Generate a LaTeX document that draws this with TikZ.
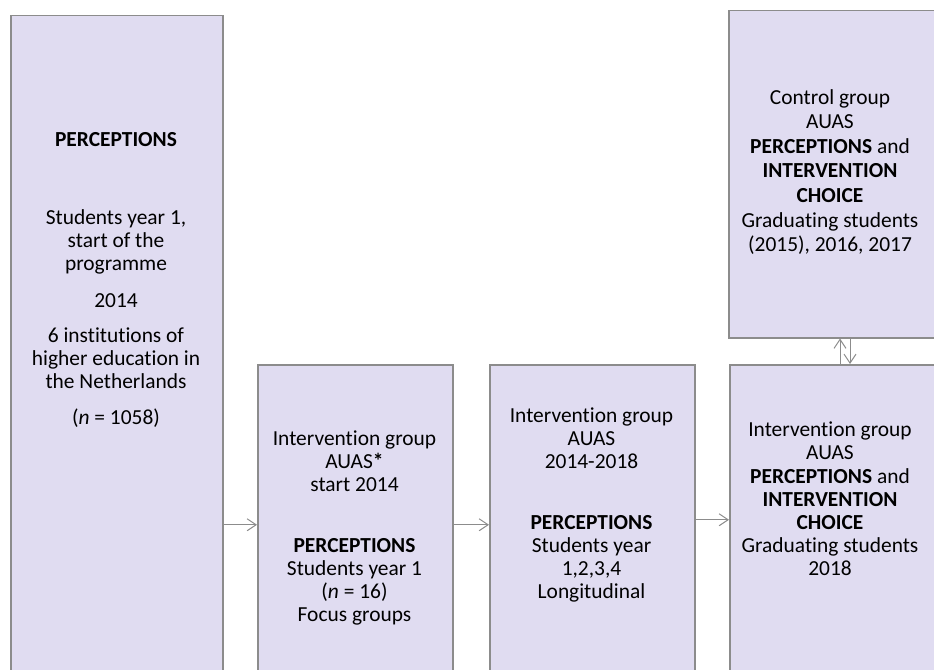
\documentclass[tikz,border=0pt]{standalone}
\usepackage{fontspec}
\setmainfont{Carlito}[Ligatures=NoCommon]
\usetikzlibrary{arrows.meta}
\definecolor{boxfill}{HTML}{E0DCF1}
\definecolor{boxline}{HTML}{8C8C8C}
\begin{document}
\begin{tikzpicture}[x=1bp,y=-1bp,
    box/.style={draw=boxline,line width=1.5bp,fill=boxfill,anchor=north west,inner sep=0pt},
    txt/.style={align=center,inner sep=0pt,font=\fontsize{21.5}{23.3}\selectfont},
    >={Straight Barb[length=9bp,width=12bp]}]
  \useasboundingbox (0,0) rectangle (934,670);
  % boxes
  \node[box,minimum width=212bp,minimum height=700bp] (0) at (10,15) {};
  \node[box,minimum width=195bp,minimum height=320bp] (1) at (257,364) {};
  \node[box,minimum width=205bp,minimum height=320bp] (2) at (489,364) {};
  \node[box,minimum width=220bp,minimum height=310bp] (3) at (729,364) {};
  \node[box,minimum width=220bp,minimum height=327bp] (4) at (728,10) {};
  % texts
  \node[txt] (t0) at (116,280) {\textbf{PERCEPTIONS}\\[55bp]
    Students year 1,\\start of the\\programme\\[13bp]
    2014\\[12bp]
    6 institutions of\\higher education in\\the Netherlands\\[13bp]
    (\textit{n} = 1058)};
  \node[txt] (t1) at (354.5,528) {Intervention group\\AUAS\textbf{*}\\start 2014\\[37bp]
    \textbf{PERCEPTIONS}\\Students year 1\\(\textit{n} = 16)\\Focus groups};
  \node[txt] (t2) at (591.5,505) {Intervention group\\AUAS\\2014-2018\\[37bp]
    \textbf{PERCEPTIONS}\\Students year\\1,2,3,4\\Longitudinal};
  \node[txt] (t3) at (830,499) {Intervention group\\AUAS\\\textbf{PERCEPTIONS} and\\
    \textbf{INTERVENTION}\\\textbf{CHOICE}\\Graduating students\\2018};
  \node[txt,font=\fontsize{21.5}{24.7}\selectfont] (t4) at (830,172) {Control group\\AUAS\\
    \textbf{PERCEPTIONS} and\\\textbf{INTERVENTION}\\\textbf{CHOICE}\\
    Graduating students\\(2015), 2016, 2017};
  \begin{scope}[->,draw=boxline,line width=1bp]
    \draw (0.east |- 1.west) to (1.west);
    \draw (1.east) to (2.west);
    \draw (2.east |- 3.west) to (3.west);
    \draw ([xshift=10bp]3.north -| 830,0) to ([xshift=10bp]4.south -| 830,0);
    \draw ([xshift=20bp]4.south -| 830,0) to ([xshift=20bp]3.north -| 830,0);
  \end{scope}
\end{tikzpicture}
\end{document}
